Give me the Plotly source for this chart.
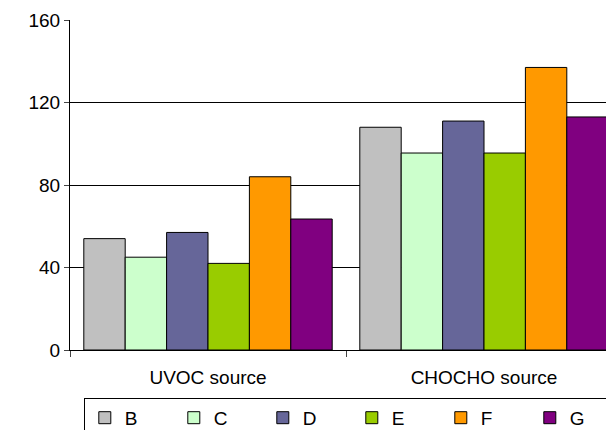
import plotly.graph_objects as go

categories = ["UVOC source", "CHOCHO source"]
series = ["B", "C", "D", "E", "F", "G"]
values = {
    "B": [54, 108],
    "C": [45, 95.5],
    "D": [57, 111],
    "E": [42, 95.5],
    "F": [84, 137],
    "G": [63.5, 113],
}
colors = ["#c0c0c0", "#ccffcc", "#666699", "#99cc00", "#ff9900", "#800080"]

fig = go.Figure()
for s, c in zip(series, colors):
    fig.add_trace(go.Bar(x=categories, y=values[s], name=s, marker=dict(color=c, line=dict(color="black", width=1))))

fig.update_layout(
    width=614, height=430, paper_bgcolor="white", plot_bgcolor="white",
    margin=dict(l=62, r=0, t=12, b=88, autoexpand=False),
    bargap=0.1, bargroupgap=0,
    font=dict(family="Liberation Sans, Arial", size=19, color="black"),
    showlegend=True,
    legend=dict(orientation="h", x=0.025, y=-0.145, xanchor="left", yanchor="top",
                bordercolor="black", borderwidth=1, font=dict(size=19),
                itemwidth=30, entrywidth=44, entrywidthmode="pixels"),
)
fig.update_yaxes(range=[0, 160], tickvals=[0, 40, 80, 120, 160], showgrid=True, gridcolor="black",
                 gridwidth=1, showline=True, linecolor="black", ticks="outside", ticklen=5, zeroline=False)
fig.update_xaxes(showline=True, linecolor="black", ticks="outside", tickson="boundaries", ticklen=6,
                 ticklabelstandoff=10, showgrid=False)
fig.write_html("out.html")
